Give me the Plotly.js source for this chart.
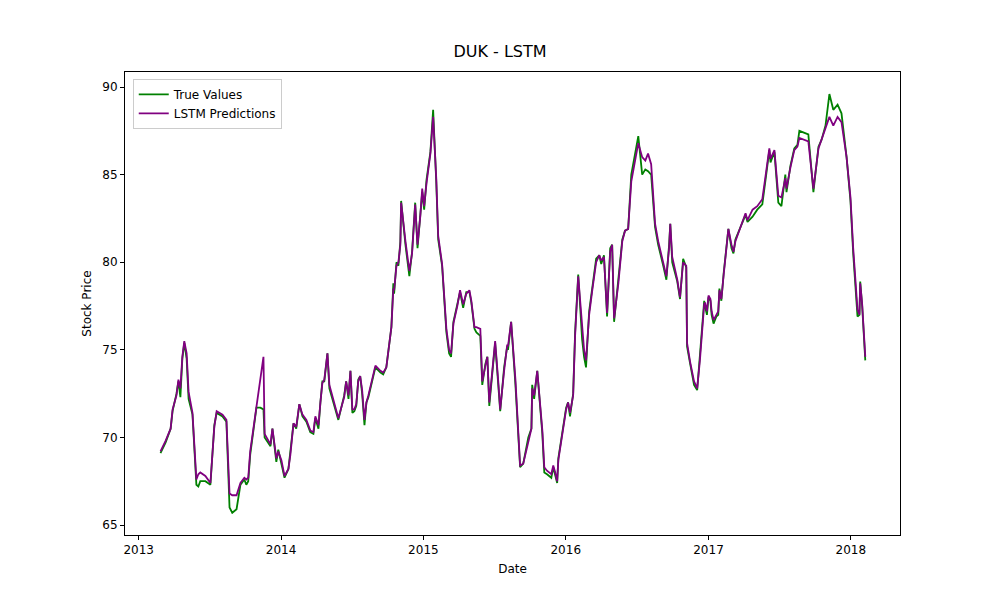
<!DOCTYPE html>
<html><head><meta charset="utf-8">
<script src="https://cdn.plot.ly/plotly-3.0.1.min.js"></script>
<style>body{margin:0}#c{width:1000px;height:600px}</style></head>
<body><div id="c"></div>
<script>
const decYears=[2013.154,2013.19,2013.225,2013.239,2013.267,2013.281,2013.295,2013.309,2013.323,2013.337,2013.351,2013.379,2013.407,2013.421,2013.435,2013.470,2013.505,2013.534,2013.548,2013.590,2013.618,2013.639,2013.660,2013.688,2013.716,2013.744,2013.758,2013.772,2013.786,2013.828,2013.856,2013.878,2013.885,2013.913,2013.927,2013.941,2013.955,2013.969,2013.983,2014.004,2014.025,2014.053,2014.067,2014.088,2014.109,2014.130,2014.151,2014.179,2014.207,2014.229,2014.243,2014.264,2014.278,2014.292,2014.306,2014.327,2014.341,2014.369,2014.404,2014.446,2014.460,2014.474,2014.488,2014.502,2014.516,2014.530,2014.544,2014.558,2014.572,2014.587,2014.601,2014.615,2014.664,2014.699,2014.720,2014.741,2014.762,2014.776,2014.790,2014.797,2014.811,2014.825,2014.839,2014.846,2014.874,2014.902,2014.923,2014.945,2014.959,2014.980,2014.994,2015.008,2015.022,2015.050,2015.071,2015.092,2015.106,2015.134,2015.162,2015.183,2015.197,2015.211,2015.239,2015.260,2015.282,2015.303,2015.324,2015.338,2015.359,2015.373,2015.401,2015.415,2015.436,2015.450,2015.464,2015.492,2015.506,2015.527,2015.541,2015.569,2015.590,2015.597,2015.618,2015.647,2015.682,2015.703,2015.738,2015.759,2015.766,2015.780,2015.801,2015.836,2015.850,2015.871,2015.899,2015.913,2015.927,2015.941,2015.948,2015.976,2016.004,2016.018,2016.032,2016.054,2016.068,2016.089,2016.117,2016.131,2016.145,2016.166,2016.187,2016.215,2016.236,2016.250,2016.271,2016.292,2016.313,2016.327,2016.342,2016.370,2016.398,2016.419,2016.440,2016.461,2016.510,2016.538,2016.559,2016.580,2016.601,2016.629,2016.650,2016.685,2016.707,2016.728,2016.735,2016.749,2016.784,2016.805,2016.826,2016.847,2016.854,2016.875,2016.903,2016.924,2016.945,2016.973,2016.980,2016.994,2017.001,2017.015,2017.022,2017.036,2017.057,2017.071,2017.078,2017.093,2017.107,2017.128,2017.142,2017.163,2017.177,2017.191,2017.226,2017.261,2017.275,2017.310,2017.345,2017.380,2017.408,2017.430,2017.437,2017.465,2017.493,2017.514,2017.542,2017.549,2017.577,2017.605,2017.626,2017.640,2017.703,2017.739,2017.774,2017.795,2017.823,2017.851,2017.879,2017.907,2017.935,2017.970,2017.998,2018.019,2018.047,2018.061,2018.068,2018.082,2018.103];
const trueValues=[69.1,69.7,70.5,71.5,72.5,73.2,72.3,74.5,75.4,74.5,72.2,71.3,67.3,67.2,67.5,67.5,67.3,70.7,71.4,71.2,70.9,66.0,65.7,65.9,67.3,67.6,67.3,67.5,69.0,71.7,71.7,71.6,70.0,69.7,69.5,70.5,69.4,68.6,69.3,68.5,67.7,68.2,69.1,70.8,70.5,71.9,71.2,70.9,70.3,70.2,71.1,70.5,72.0,73.2,73.2,74.8,72.8,72.0,71.0,72.4,73.2,72.2,73.8,71.4,71.5,71.8,73.3,73.5,72.5,70.7,72.0,72.3,74.0,73.7,73.6,74.0,75.5,76.3,78.8,78.2,80.0,79.8,81.2,83.5,81.0,79.2,80.6,83.4,80.8,82.8,84.0,83.0,84.7,86.3,88.7,84.6,81.3,79.8,76.0,74.8,74.6,76.6,77.5,78.3,77.4,78.3,78.3,77.7,76.2,76.0,75.8,73.0,74.2,74.6,71.8,74.5,75.4,73.0,71.5,74.0,75.2,75.0,76.6,73.0,68.3,68.5,70.0,70.5,73.0,72.2,73.8,70.2,68.0,67.9,67.7,68.3,67.9,67.4,68.8,70.2,71.7,72.0,71.2,72.5,76.0,79.3,75.6,74.6,74.0,77.2,78.5,80.2,80.4,79.9,80.4,76.9,80.8,81.0,76.6,79.0,81.3,81.8,81.9,85.0,87.2,85.0,85.3,85.2,85.0,82.0,81.0,79.8,79.0,81.0,82.2,80.0,78.9,77.9,80.2,79.7,75.2,74.2,73.0,72.7,74.5,77.8,77.5,77.0,78.0,77.8,77.0,76.5,76.9,77.0,78.5,77.8,79.4,81.0,81.9,80.8,80.5,81.3,82.0,82.7,82.3,82.6,83.0,83.3,85.0,86.4,85.7,86.3,83.4,83.2,85.0,84.0,85.5,86.5,86.7,87.5,87.3,84.0,86.6,87.0,87.8,89.6,88.7,89.0,88.5,86.0,83.5,80.5,76.9,77.0,78.9,77.5,74.4];
const lstmPredictions=[69.2,69.8,70.5,71.6,72.4,73.3,72.8,74.6,75.5,74.8,72.6,71.4,67.6,67.9,68.0,67.8,67.4,70.6,71.5,71.3,71.0,66.8,66.7,66.7,67.4,67.7,67.6,67.7,69.2,71.8,73.5,74.6,70.2,69.8,69.6,70.5,69.6,68.8,69.2,68.7,67.8,68.2,69.0,70.8,70.6,71.9,71.3,71.0,70.4,70.3,71.2,70.7,72.0,73.1,73.3,74.8,73.0,72.1,71.1,72.3,73.2,72.4,73.8,71.6,71.6,71.9,73.2,73.5,72.7,71.0,72.0,72.4,74.1,73.8,73.7,74.0,75.4,76.3,78.5,78.4,79.8,80.0,81.0,83.4,81.2,79.5,80.5,83.3,81.0,82.6,84.2,83.2,84.5,86.2,88.3,84.8,81.5,79.9,76.2,75.0,74.8,76.5,77.5,78.4,77.6,78.2,78.4,77.8,76.3,76.3,76.2,73.2,74.1,74.6,72.0,74.3,75.5,73.2,71.6,73.8,75.3,75.2,76.6,73.3,68.4,68.5,69.8,70.5,72.8,72.4,73.8,70.4,68.3,68.1,67.9,68.4,68.0,67.5,68.7,70.1,71.6,72.0,71.4,72.4,75.8,79.2,76.0,75.0,74.4,77.0,78.4,80.0,80.4,80.1,80.3,77.1,80.6,81.0,76.8,78.8,81.2,81.8,81.9,84.6,86.8,86.0,85.8,86.2,85.6,82.2,81.2,80.0,79.2,80.8,82.2,80.3,79.0,78.0,80.0,79.8,75.4,74.3,73.2,72.8,74.4,77.6,77.7,77.2,78.1,77.9,77.2,76.7,77.0,77.2,78.4,77.9,79.3,80.8,81.9,81.0,80.6,81.2,82.0,82.8,82.4,83.0,83.2,83.6,85.2,86.5,85.9,86.4,83.8,83.7,84.8,84.2,85.4,86.4,86.6,87.1,86.9,84.2,86.5,87.0,87.6,88.3,87.8,88.3,88.0,86.0,83.7,80.8,77.3,77.0,78.8,77.6,74.6];
const xTickVals=['2013-01-01','2014-01-01','2015-01-01','2016-01-01','2017-01-01','2018-01-01'];
const xTickText=['2013','2014','2015','2016','2017','2018'];

function toDate(d){const y=Math.floor(d);const ms=Date.UTC(y,0,1)+(d-y)*365*86400000;return new Date(ms).toISOString().slice(0,10);}
const dates=decYears.map(toDate);
const font={family:'DejaVu Sans',size:12,color:'#000'};
Plotly.newPlot('c',[
 {x:dates,y:trueValues,type:'scatter',mode:'lines',name:'True Values',line:{color:'green',width:1.8}},
 {x:dates,y:lstmPredictions,type:'scatter',mode:'lines',name:'LSTM Predictions',line:{color:'purple',width:1.8}}
],{
 width:1000,height:600,font:font,paper_bgcolor:'#fff',plot_bgcolor:'#fff',
 margin:{l:125,r:100,t:72,b:65},
 title:{text:'DUK - LSTM',x:0.5,xanchor:'center',y:0.905,yanchor:'bottom',font:{family:'DejaVu Sans',size:16,color:'#000'}},
 xaxis:{title:{text:'Date',font:font,standoff:8},range:[toDate(2012.909),toDate(2018.347)],tickvals:xTickVals,ticktext:xTickText,
   showgrid:false,zeroline:false,showline:true,mirror:true,linecolor:'#000',linewidth:1,ticks:'outside',ticklen:4,tickcolor:'#000'},
 yaxis:{title:{text:'Stock Price',font:font,standoff:8},range:[64.43,90.86],tickvals:[65,70,75,80,85,90],
   showgrid:false,zeroline:false,showline:true,mirror:true,linecolor:'#000',linewidth:1,ticks:'outside',ticklen:4,tickcolor:'#000'},
 legend:{x:0.01,y:0.985,xanchor:'left',yanchor:'top',bgcolor:'rgba(255,255,255,0.8)',bordercolor:'#ccc',borderwidth:1,font:font},
 showlegend:true
},{displayModeBar:false});
</script></body></html>
